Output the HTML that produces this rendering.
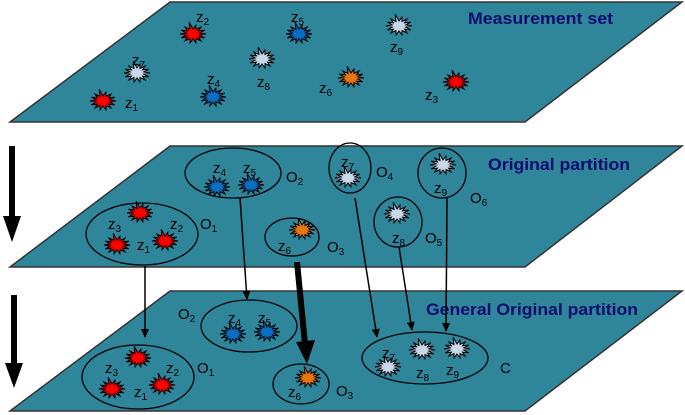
<!DOCTYPE html>
<html><head><meta charset="utf-8"><style>
html,body{margin:0;padding:0;background:#fff;width:685px;height:415px;overflow:hidden}
svg text{font-family:"Liberation Sans",sans-serif;font-size:15px;fill:#000}
.t{font-weight:bold;font-size:17px;fill:#0c0c6e}
.s{font-size:10px}
</style></head><body>
<svg id="sv" width="685" height="415" viewBox="0 0 685 415" xmlns="http://www.w3.org/2000/svg">
<defs>
<marker id="ah" markerWidth="10" markerHeight="10" refX="8" refY="4" orient="auto" markerUnits="userSpaceOnUse"><path d="M0,0 L9,4 L0,8 z" fill="#000"/></marker>
</defs>
<g stroke="#333" stroke-width="1.5" fill="#2f8599">
<polygon points="170,2 682,2 525,122 10,122"/>
<polygon points="170,146 682,146 525,267 10,267"/>
<polygon points="170,291 682,291 525,411 10,411"/>
</g>
<text class="t" x="468" y="24" textLength="145" lengthAdjust="spacingAndGlyphs">Measurement set</text>
<text class="t" x="488" y="170" textLength="142" lengthAdjust="spacingAndGlyphs">Original partition</text>
<text class="t" x="426" y="315" textLength="212" lengthAdjust="spacingAndGlyphs">General Original partition</text>
<g fill="#000">
<rect x="9" y="146" width="6" height="72"/><polygon points="3,216 21,216 12,242"/>
<rect x="11" y="295" width="6" height="70"/><polygon points="5,363 23,363 14,388"/>
</g>
<g fill="none" stroke="#000" stroke-width="1.3">
<ellipse cx="233" cy="173" rx="48" ry="25"/>
<ellipse cx="142" cy="234" rx="56" ry="31"/>
<ellipse cx="292" cy="237" rx="27" ry="19"/>
<ellipse cx="350" cy="168" rx="21" ry="25"/>
<ellipse cx="398" cy="222" rx="24" ry="25"/>
<ellipse cx="442" cy="173" rx="24" ry="25"/>
<ellipse cx="249" cy="326" rx="48" ry="26"/>
<ellipse cx="138" cy="377" rx="56" ry="32"/>
<ellipse cx="301" cy="384" rx="28" ry="20"/>
<ellipse cx="425" cy="358" rx="63" ry="26"/>
</g>
<g stroke="#000" stroke-width="1.5" marker-end="url(#ah)">
<line x1="145" y1="266" x2="145" y2="337"/>
<line x1="240" y1="198" x2="247" y2="299"/>
<line x1="355" y1="198" x2="377" y2="337"/>
<line x1="399" y1="247" x2="412" y2="330"/>
<line x1="447" y1="198" x2="446" y2="331"/>
</g>
<line x1="297" y1="262" x2="305" y2="344" stroke="#000" stroke-width="6"/>
<polygon points="296,342 315,340 307,364" fill="#000"/>
<g id="stars"></g>
<text x="196" y="22">z<tspan class="s" dy="3">2</tspan></text>
<text x="291" y="22">z<tspan class="s" dy="3">5</tspan></text>
<text x="390" y="52">z<tspan class="s" dy="3">9</tspan></text>
<text x="132" y="65">z<tspan class="s" dy="3">7</tspan></text>
<text x="257" y="87">z<tspan class="s" dy="3">8</tspan></text>
<text x="207" y="84">z<tspan class="s" dy="3">4</tspan></text>
<text x="319" y="93">z<tspan class="s" dy="3">6</tspan></text>
<text x="425" y="100">z<tspan class="s" dy="3">3</tspan></text>
<text x="125" y="108">z<tspan class="s" dy="3">1</tspan></text>

<text x="213" y="173">z<tspan class="s" dy="3">4</tspan></text>
<text x="243" y="173">z<tspan class="s" dy="3">5</tspan></text>
<text x="286" y="182">O<tspan class="s" dy="3">2</tspan></text>
<text x="108" y="229">z<tspan class="s" dy="3">3</tspan></text>
<text x="170" y="229">z<tspan class="s" dy="3">2</tspan></text>
<text x="137" y="250">z<tspan class="s" dy="3">1</tspan></text>
<text x="200" y="229">O<tspan class="s" dy="3">1</tspan></text>
<text x="278" y="251">z<tspan class="s" dy="3">6</tspan></text>
<text x="327" y="252">O<tspan class="s" dy="3">3</tspan></text>
<text x="341" y="167">z<tspan class="s" dy="3">7</tspan></text>
<text x="376" y="177">O<tspan class="s" dy="3">4</tspan></text>
<text x="392" y="243">z<tspan class="s" dy="3">8</tspan></text>
<text x="425" y="243">O<tspan class="s" dy="3">5</tspan></text>
<text x="434" y="193">z<tspan class="s" dy="3">9</tspan></text>
<text x="470" y="203">O<tspan class="s" dy="3">6</tspan></text>

<text x="178" y="319">O<tspan class="s" dy="3">2</tspan></text>
<text x="228" y="323">z<tspan class="s" dy="3">4</tspan></text>
<text x="258" y="323">z<tspan class="s" dy="3">5</tspan></text>
<text x="105" y="373">z<tspan class="s" dy="3">3</tspan></text>
<text x="166" y="373">z<tspan class="s" dy="3">2</tspan></text>
<text x="134" y="397">z<tspan class="s" dy="3">1</tspan></text>
<text x="197" y="373">O<tspan class="s" dy="3">1</tspan></text>
<text x="288" y="397">z<tspan class="s" dy="3">6</tspan></text>
<text x="336" y="396">O<tspan class="s" dy="3">3</tspan></text>
<text x="382" y="358">z<tspan class="s" dy="3">7</tspan></text>
<text x="416" y="378">z<tspan class="s" dy="3">8</tspan></text>
<text x="446" y="375">z<tspan class="s" dy="3">9</tspan></text>
<text x="500" y="373">C</text>
</svg>
<script>
var R="#ff0000",B="#0a6fc2",W="#c9d8ea",O="#e8760f";
var st=[[193,34,R],[299,34,B],[399,26,W],[137,73,W],[262,59,W],[213,97,B],[351,78,O],[456,82,R],[103,101,R],
[217,187,B],[251,185,B],[140,213,R],[117,245,R],[165,241,R],[302,230,O],[348,178,W],[397,214,W],[443,165,W],
[233,334,B],[267,332,B],[138,358,R],[112,389,R],[162,385,R],[308,378,O],[388,367,W],[422,350,W],[457,349,W]];
var g=document.getElementById("stars"),h="";
st.forEach(function(s){var p=[],n=14;for(var i=0;i<2*n;i++){var a=i*Math.PI/n,o=i%2==0;var rx=o?13:7,ry=o?9:5;
if(i==20){rx=17;ry=12;}p.push((s[0]+rx*Math.cos(a)).toFixed(1)+","+(s[1]+ry*Math.sin(a)).toFixed(1));}
h+='<polygon points="'+p.join(" ")+'" fill="'+s[2]+'" stroke="#000" stroke-width="1"/>';});
g.innerHTML=h;
</script>
</body></html>
